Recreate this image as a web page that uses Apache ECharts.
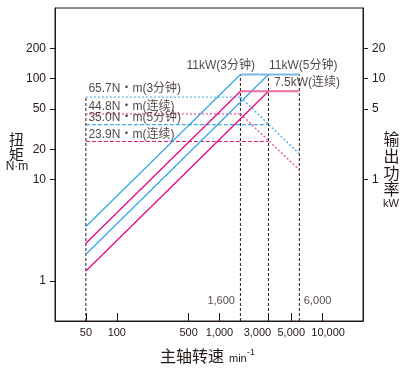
<!DOCTYPE html>
<html>
<head>
<meta charset="utf-8">
<script src="https://cdn.jsdelivr.net/npm/echarts@6/dist/echarts.min.js"></script>
<style>
html,body{margin:0;padding:0;background:#fff;}
#main{width:407px;height:369px;}
</style>
</head>
<body>
<div id="main"></div>
<script>
// ---- data ----
const xTicks = [50, 100, 500, 1000, 3000, 5000, 10000];
const torqueTicks = [1, 10, 20, 50, 100, 200];
const powerTicks = [1, 5, 10, 20];
const speedMarks = [1600, 6000];

// output power (kW) vs speed
const rise657 = [[50, 0.344], [1600, 11]];
const rise448 = [[50, 0.235], [1600, 7.5]];
const rise350 = [[50, 0.183], [3000, 11]];
const rise239 = [[50, 0.125], [3000, 7.5]];
const flat11 = [[1600, 11], [6000, 11]];
const flat75 = [[1600, 7.5], [6000, 7.5]];

// torque (N·m) vs speed
const torque657 = [[50, 65.7], [1600, 65.7]];
const torque448 = [[50, 44.8], [1600, 44.8]];
const torque350 = [[50, 35.0], [3000, 35.0]];
const torque239 = [[50, 23.9], [3000, 23.9]];
const fall11 = [[1600, 65.7], [6000, 18]];
const fall75 = [[1600, 44.8], [6000, 12.5]];

// vertical guide lines
const vert50 = [[50, 0.4], [50, 65.7]];
const vert1600 = [[1600, 0.04], [1600, 11]];
const vert3000 = [[3000, 0.04], [3000, 11]];
const vert6000 = [[6000, 0.04], [6000, 11]];

const torqueLabels = ['65.7N・m(3分钟)', '44.8N・m(连续)', '35.0N・m(5分钟)', '23.9N・m(连续)'];
const torqueLabelValues = [65.7, 44.8, 35.0, 23.9];
const powerLabels = ['11kW(3分钟)', '11kW(5分钟)', '7.5kW(连续)'];
const powerLabelPoints = [[1600, 11], [3000, 11], [3000, 7.5]];

// ---- chart ----
const TXT = '#231815';
const FONT = '"Liberation Sans", Arial, "Noto Sans CJK SC", sans-serif';
const CJK = '"Noto Sans CJK SC", sans-serif';
const chart = echarts.init(document.getElementById('main'), null, {renderer: 'canvas'});

function line(data, color, width, type, yIdx, z) {
  return {
    type: 'line', data: data, yAxisIndex: yIdx, symbol: 'none', silent: true, z: z || 2,
    lineStyle: {color: color, width: width, type: type, cap: 'butt'},
    animation: false
  };
}

const torqueLabelOffsets = [[3, -7.5], [3, -6.5], [3, -6.5], [3, -6.5]];
const powerLabelOffsets = [[15, -8, 'right'], [1, -8, 'left'], [6, -8, 'left']];
const speedLabelOffsets = [[-5, 0, 'right'], [5, 0, 'left']];

function xLabel(v) {
  const r = Math.round(v);
  const s = r.toLocaleString('en-US');
  if (r === 3000) return '{l|' + s + '}';
  if (r === 10000) return '{r|' + s + '}';
  return s;
}

const option = {
  animation: false,
  textStyle: {fontFamily: FONT},
  grid: {left: 55, right: 44, top: 8, bottom: 48, show: true, borderColor: TXT, borderWidth: 1, containLabel: false, outerBoundsMode: 'none'},
  xAxis: {
    type: 'log', logBase: 10, min: 25, max: 25000,
    axisLine: {show: true, lineStyle: {color: TXT, width: 1}},
    axisTick: {show: true, inside: true, length: 8, lineStyle: {color: TXT}, customValues: xTicks},
    axisLabel: {show: true, color: TXT, fontSize: 11, margin: 6, fontFamily: FONT, customValues: xTicks,
      formatter: xLabel,
      rich: {
        l: {fontSize: 11, color: TXT, fontFamily: FONT, padding: [0, 22, 0, 0]},
        r: {fontSize: 11, color: TXT, fontFamily: FONT, padding: [0, 0, 0, 12]}
      }},
    splitLine: {show: false}, minorTick: {show: false}
  },
  yAxis: [{
    type: 'log', logBase: 10, min: 0.4, max: 500, position: 'left',
    axisLine: {show: true, lineStyle: {color: TXT, width: 1}},
    axisTick: {show: true, inside: false, length: 5, lineStyle: {color: TXT}, customValues: torqueTicks},
    axisLabel: {show: true, color: TXT, fontSize: 12, margin: 9, fontFamily: FONT, customValues: torqueTicks,
      formatter: v => String(Math.round(v))},
    splitLine: {show: false}
  }, {
    type: 'log', logBase: 10, min: 0.04, max: 50, position: 'right',
    axisLine: {show: true, lineStyle: {color: TXT, width: 1}},
    axisTick: {show: true, inside: false, length: 5, lineStyle: {color: TXT}, customValues: powerTicks},
    axisLabel: {show: true, color: TXT, fontSize: 12, margin: 9, fontFamily: FONT, customValues: powerTicks,
      formatter: v => String(Math.round(v))},
    splitLine: {show: false}
  }],
  series: [
    line(vert50, TXT, 1, [3, 2], 0, 1),
    line(vert1600, TXT, 1, [3, 2], 1, 1),
    line(vert3000, TXT, 1, [3, 2], 1, 1),
    line(vert6000, TXT, 1, [3, 2], 1, 1),
    line(torque657, '#3aa6e8', 1, [2, 2], 0, 2),
    line(torque448, '#f08cbb', 2, [2, 2], 0, 2),
    line(torque350, '#1d93db', 1, [4, 2], 0, 2),
    line(torque239, '#d8137a', 1, [4, 2], 0, 2),
    line(fall11, '#5fb4ec', 1.5, [2, 2], 0, 2),
    line(fall75, '#ec5f9f', 1.5, [2, 2], 0, 2),
    line(rise657, '#2ea7e8', 1.2, 'solid', 1, 3),
    line(rise448, '#e5007f', 1.2, 'solid', 1, 3),
    line(rise350, '#2ea7e8', 1.2, 'solid', 1, 3),
    line(rise239, '#e5007f', 1.2, 'solid', 1, 3),
    line(flat11, '#79b8ea', 2, 'solid', 1, 4),
    line(flat75, '#ef6aa5', 2, 'solid', 1, 4),
    {
      type: 'scatter', yAxisIndex: 0, symbolSize: 1, itemStyle: {color: 'rgba(0,0,0,0)'}, silent: true, z: 5,
      data: torqueLabelValues.map((v, i) => ({
        value: [50, v],
        label: {show: true, formatter: torqueLabels[i], position: torqueLabelOffsets[i], align: 'left',
          verticalAlign: 'middle', color: TXT, fontSize: 12, fontFamily: FONT}
      }))
    },
    {
      type: 'scatter', yAxisIndex: 1, symbolSize: 1, itemStyle: {color: 'rgba(0,0,0,0)'}, silent: true, z: 5,
      data: powerLabelPoints.map((p, i) => ({
        value: p,
        label: {show: true, formatter: powerLabels[i], position: [powerLabelOffsets[i][0], powerLabelOffsets[i][1]],
          align: powerLabelOffsets[i][2], verticalAlign: 'middle', color: TXT, fontSize: 12, fontFamily: FONT}
      }))
    },
    {
      type: 'scatter', yAxisIndex: 0, symbolSize: 1, itemStyle: {color: 'rgba(0,0,0,0)'}, silent: true, z: 5,
      data: speedMarks.map((s, i) => ({
        value: [s, 0.63],
        label: {show: true, formatter: s.toLocaleString('en-US'),
          position: [speedLabelOffsets[i][0], speedLabelOffsets[i][1]], align: speedLabelOffsets[i][2],
          verticalAlign: 'middle', color: TXT, fontSize: 11, fontFamily: FONT}
      }))
    }
  ],
  graphic: [
    {type: 'text', x: 16.5, y: 139, style: {text: '扭', fill: TXT, font: '15px ' + CJK, align: 'center', verticalAlign: 'middle'}},
    {type: 'text', x: 16.5, y: 154, style: {text: '矩', fill: TXT, font: '15px ' + CJK, align: 'center', verticalAlign: 'middle'}},
    {type: 'text', x: 17, y: 166.5, style: {text: 'N·m', fill: TXT, font: '12px ' + FONT, align: 'center', verticalAlign: 'middle'}},
    {type: 'text', x: 391.5, y: 138.5, style: {text: '输', fill: TXT, font: '16px ' + CJK, align: 'center', verticalAlign: 'middle'}},
    {type: 'text', x: 391.5, y: 155.5, style: {text: '出', fill: TXT, font: '16px ' + CJK, align: 'center', verticalAlign: 'middle'}},
    {type: 'text', x: 391.5, y: 172.5, style: {text: '功', fill: TXT, font: '16px ' + CJK, align: 'center', verticalAlign: 'middle'}},
    {type: 'text', x: 391.5, y: 188.5, style: {text: '率', fill: TXT, font: '16px ' + CJK, align: 'center', verticalAlign: 'middle'}},
    {type: 'text', x: 391, y: 204, style: {text: 'kW', fill: TXT, font: '11px ' + FONT, align: 'center', verticalAlign: 'middle'}},
    {type: 'text', x: 160, y: 355.5, style: {text: '主轴转速', fill: TXT, font: '16px ' + CJK, align: 'left', verticalAlign: 'middle'}},
    {type: 'text', x: 229, y: 358.5, style: {text: 'min', fill: TXT, font: '11px ' + FONT, align: 'left', verticalAlign: 'middle'}},
    {type: 'text', x: 247, y: 352.5, style: {text: '-1', fill: TXT, font: '9px ' + FONT, align: 'left', verticalAlign: 'middle'}}
  ]
};
chart.setOption(option);
</script>
</body>
</html>
